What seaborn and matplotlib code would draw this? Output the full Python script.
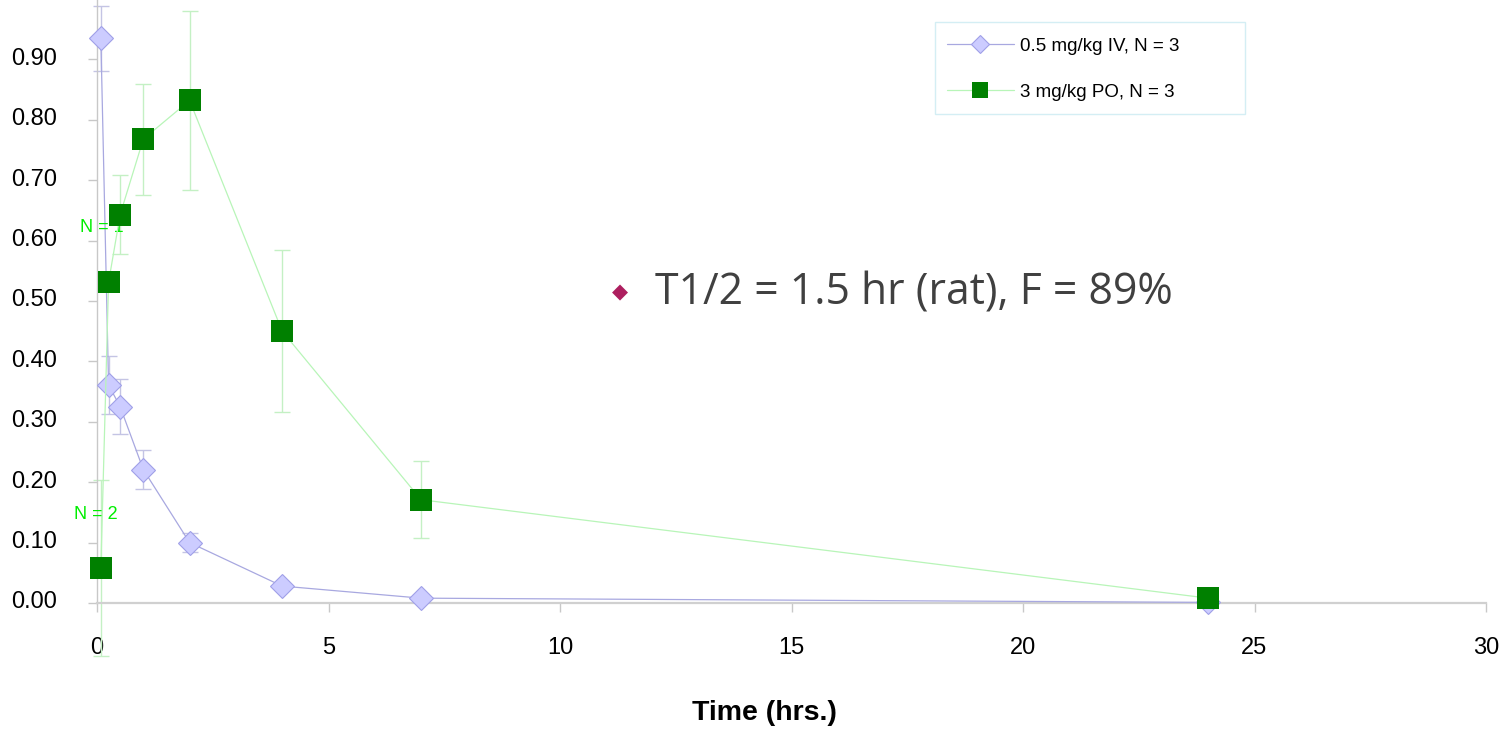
import numpy as np
import pandas as pd
import seaborn as sns
import matplotlib.pyplot as plt
import matplotlib.transforms as mtransforms
from matplotlib.patches import Rectangle

# sampling times (hrs)
time_iv = [0.083, 0.25, 0.5, 1, 2, 4, 7, 24]
time_po = [0.083, 0.25, 0.5, 1, 2, 4, 7, 24]

# plasma concentration, mean and SD
conc_iv = [0.935, 0.361, 0.325, 0.221, 0.100, 0.028, 0.008, 0.001]
sd_iv = [0.054, 0.048, 0.046, 0.032, 0.016, 0.005, 0.002, 0.0]
conc_po = [0.058, 0.531, 0.643, 0.768, 0.832, 0.450, 0.171, 0.008]
sd_po = [0.146, 0.0, 0.066, 0.092, 0.148, 0.134, 0.064, 0.0]

label_iv = "0.5 mg/kg IV, N = 3"
label_po = "3 mg/kg PO, N = 3"

sns.set_style("white")
plt.rcParams['font.family'] = ['Liberation Sans', 'DejaVu Sans']
plt.rcParams['text.color'] = 'black'
plt.rcParams['axes.labelcolor'] = 'black'

fig = plt.figure(figsize=(15.03, 7.30), dpi=100)
ax = fig.add_axes([97 / 1503, 127 / 730, (1486 - 97) / 1503, 604 / 730])

df_iv = pd.DataFrame({'time': time_iv, 'conc': conc_iv})
df_po = pd.DataFrame({'time': time_po, 'conc': conc_po})

# error bars first so markers sit on top
ax.errorbar(time_iv, conc_iv, yerr=sd_iv, fmt='none', ecolor='#c4c4e4',
            elinewidth=1.0, capsize=5.5, capthick=1.0, clip_on=False, zorder=1)
ax.errorbar(time_po, conc_po, yerr=sd_po, fmt='none', ecolor='#c4f0c4',
            elinewidth=1.0, capsize=5.5, capthick=1.0, clip_on=False, zorder=1)

sns.lineplot(data=df_iv, x='time', y='conc', ax=ax, color='#a8a8e0', lw=0.9,
             marker='D', markersize=12.2, markerfacecolor='#ccccff',
             markeredgecolor='#a0a0e8', markeredgewidth=0.8, label=label_iv,
             clip_on=False, zorder=3)
sns.lineplot(data=df_po, x='time', y='conc', ax=ax, color='#b8f5b8', lw=0.9,
             marker='s', markersize=15.5, markerfacecolor='#008000',
             markeredgecolor='#008000', markeredgewidth=0, label=label_po,
             clip_on=False, zorder=4)

ax.set_xlim(0, 30)
ax.set_ylim(0, 1.0)
ax.set_xticks([0, 5, 10, 15, 20, 25, 30])
ax.set_yticks(np.arange(0, 0.95, 0.1))
ax.set_yticklabels([f"{v:.2f}" for v in np.arange(0, 0.95, 0.1)])

for s in ['top', 'right']:
    ax.spines[s].set_visible(False)
ax.spines['left'].set_color('#c8c8c8')
ax.spines['left'].set_linewidth(1.0)
ax.spines['bottom'].set_color('#d0d0d0')
ax.spines['bottom'].set_linewidth(1.6)
ax.tick_params(axis='y', direction='out', length=6.5, width=1, color='#c8c8c8',
               labelsize=17, pad=22, left=True, labelcolor='black')
ax.tick_params(axis='x', direction='out', length=6.5, width=1, color='#c8c8c8',
               labelsize=17, pad=18, bottom=True, labelcolor='black')

# y labels sit a little above their ticks in the original
shift = mtransforms.ScaledTranslation(0, 3 / 100, fig.dpi_scale_trans)
for lab in ax.get_yticklabels():
    lab.set_transform(lab.get_transform() + shift)

ax.set_xlabel("Time (hrs.)", fontsize=20.5, fontweight='bold')
ax.xaxis.set_label_coords((764 - 97) / (1486 - 97), -(713 - 603) / 604)
ax.xaxis.label.set_va('center')
ax.set_ylabel("")

# N annotations
ax.text(0.11, 0.621, "N = 1", color='#00ee00', fontsize=13,
        ha='center', va='center')
ax.text(-0.02, 0.146, "N = 2", color='#00ee00', fontsize=13,
        ha='center', va='center', clip_on=False)

# summary bullet
fig.text(620 / 1503, 1 - 292 / 730, "\u25c6", color='#ad1f5f', fontsize=15,
         ha='center', va='center', family='DejaVu Sans')
fig.text(655 / 1503, 1 - 293 / 730, "T1/2 = 1.5 hr (rat), F = 89%",
         color='#404040', fontsize=30.8, ha='left', va='center',
         family=['Open Sans', 'DejaVu Sans'])

# legend box drawn separately: the original frame has wide right padding
fig.patches.append(Rectangle((935 / 1503, 1 - 114 / 730), 310 / 1503, 92 / 730,
                             transform=fig.transFigure, fill=False,
                             edgecolor='#d4eef4', lw=1.0))
leg = ax.legend(loc='upper left', bbox_to_anchor=(941 / 1503, 1 - 32 / 730),
                bbox_transform=fig.transFigure, fontsize=13.5, frameon=False,
                borderpad=0.3, labelspacing=1.55,
                handlelength=3.6, handletextpad=0.3, borderaxespad=0)
for h in leg.legend_handles:
    h.set_markersize(h.get_markersize() * 0.75)

fig.savefig("out.png", dpi=100)
